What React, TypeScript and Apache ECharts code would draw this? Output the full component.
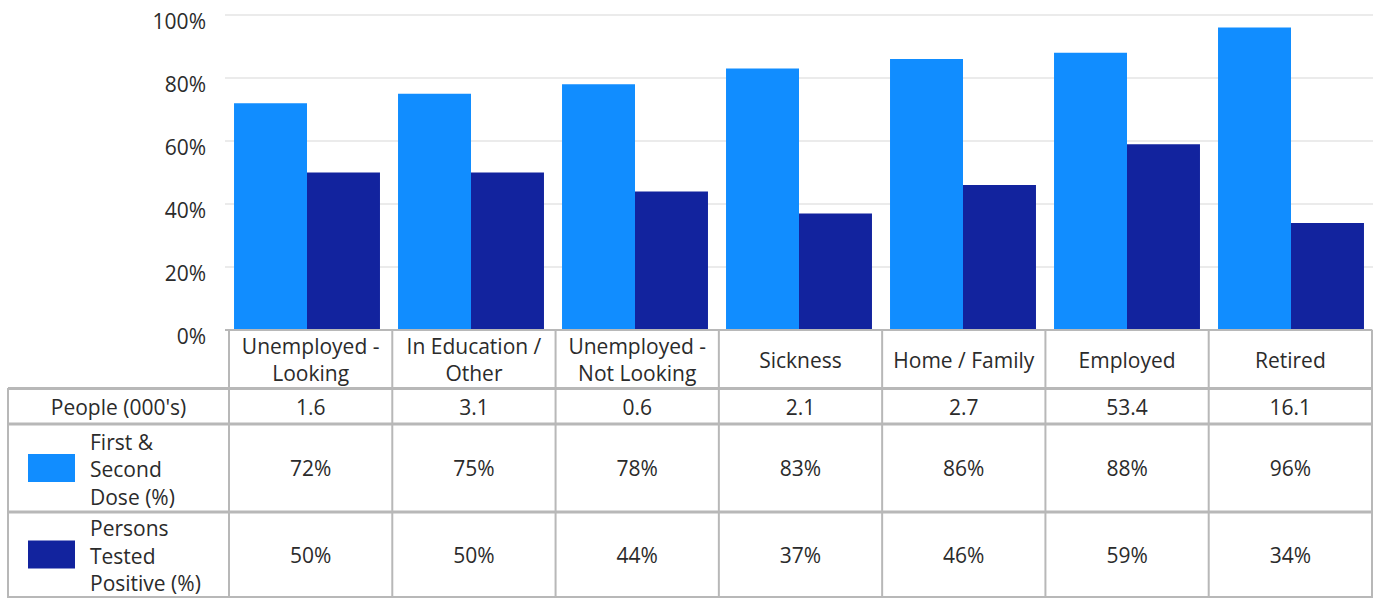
import React, { useEffect, useRef } from "react";
import * as echarts from "echarts";

const categories = [
  "Unemployed -\nLooking",
  "In Education /\nOther",
  "Unemployed -\nNot Looking",
  "Sickness",
  "Home / Family",
  "Employed",
  "Retired",
];
const people = [1.6, 3.1, 0.6, 2.1, 2.7, 53.4, 16.1];
const doseValues = [72, 75, 78, 83, 86, 88, 96];
const positiveValues = [50, 50, 44, 37, 46, 59, 34];
const seriesNames = ["First &\nSecond\nDose (%)", "Persons\nTested\nPositive (%)"];
const seriesColors = ["#118DFF", "#12239E"];
const peopleLabel = "People (000's)";

const FONT = "'Open Sans', 'Noto Sans', sans-serif";
const FS = 21;
const TXT = "#2b2b2b";
const LINE = "#b8b8b8";

export default function App() {
  const ref = useRef<HTMLDivElement>(null);
  useEffect(() => {
    if (!ref.current) return;
    const chart = echarts.init(ref.current, null, { renderer: "svg" });

    const tableLeft = 8;
    const colX0 = 229;
    const colRight = 1372;
    const colW = (colRight - colX0) / categories.length;
    const rowCat = [330, 388];
    const row1 = [389, 424];
    const row2 = [424, 512];
    const row3 = [512, 597];

    const g: any[] = [];
    const hline = (y: number, x1: number, x2: number, w: number) =>
      g.push({ type: "line", shape: { x1, y1: y, x2, y2: y }, style: { stroke: LINE, lineWidth: w }, z: 10 });
    const vline = (x: number, y1: number, y2: number, w: number) =>
      g.push({ type: "line", shape: { x1: x, y1, x2: x, y2 }, style: { stroke: LINE, lineWidth: w }, z: 10 });
    const text = (x: number, y: number, t: string, align: string = "center") =>
      g.push({
        type: "text",
        x,
        y,
        style: {
          text: t,
          fill: TXT,
          font: `${FS}px ${FONT}`,
          fontSize: FS,
          fontFamily: FONT,
          align,
          verticalAlign: "middle",
          lineHeight: 27.5,
        },
        z: 11,
      });

    hline(rowCat[0], colX0 - 4, colRight, 2);
    hline(388.5, tableLeft, colRight + 1, 3);
    hline(424, tableLeft, colRight + 1, 3);
    hline(512, tableLeft, colRight + 1, 3);
    hline(597, tableLeft, colRight + 1, 2);
    vline(tableLeft, 388, 598, 2);
    for (let i = 0; i <= categories.length; i++) {
      vline(colX0 + i * colW, rowCat[0], 598, 2);
    }

    const mid = (r: number[]) => (r[0] + r[1]) / 2;
    categories.forEach((c, i) => {
      const cx = colX0 + (i + 0.5) * colW;
      text(cx, mid(rowCat) + 0.5, c);
      text(cx, mid(row1), people[i].toFixed(1));
      text(cx, mid(row2), doseValues[i] + "%");
      text(cx, mid(row3), positiveValues[i] + "%");
    });
    text((tableLeft + colX0) / 2, mid(row1), peopleLabel);
    [row2, row3].forEach((r, k) => {
      g.push({
        type: "rect",
        shape: { x: 28, y: mid(r) - 14, width: 47, height: 28 },
        style: { fill: seriesColors[k] },
        z: 11,
      });
      text(90, mid(r) + 1, seriesNames[k], "left");
    });

    chart.setOption({
      animation: false,
      grid: { left: 225, right: 5, top: 15, height: 315, containLabel: false },
      xAxis: {
        type: "category",
        data: categories,
        axisLine: { show: false },
        axisTick: { show: false },
        axisLabel: { show: false },
      },
      yAxis: {
        type: "value",
        min: 0,
        max: 100,
        interval: 20,
        axisLine: { show: false },
        axisTick: { show: false },
        splitLine: { lineStyle: { color: "#e4e4e4", width: 1.5 } },
        axisLabel: {
          formatter: "{value}%",
          color: TXT,
          fontSize: FS,
          fontFamily: FONT,
          margin: 19,
          verticalAlign: "top",
          lineHeight: 12,
        },
      },
      series: [
        {
          name: "First & Second Dose (%)",
          type: "bar",
          data: doseValues,
          itemStyle: { color: seriesColors[0] },
          barGap: "0%",
          barCategoryGap: "11%",
        },
        {
          name: "Persons Tested Positive (%)",
          type: "bar",
          data: positiveValues,
          itemStyle: { color: seriesColors[1] },
        },
      ],
      graphic: g,
    });
    return () => chart.dispose();
  }, []);
  return (
    <div
      ref={ref}
      style={{ position: "fixed", left: 0, top: 0, width: 1378, height: 599, background: "#fff" }}
    />
  );
}
